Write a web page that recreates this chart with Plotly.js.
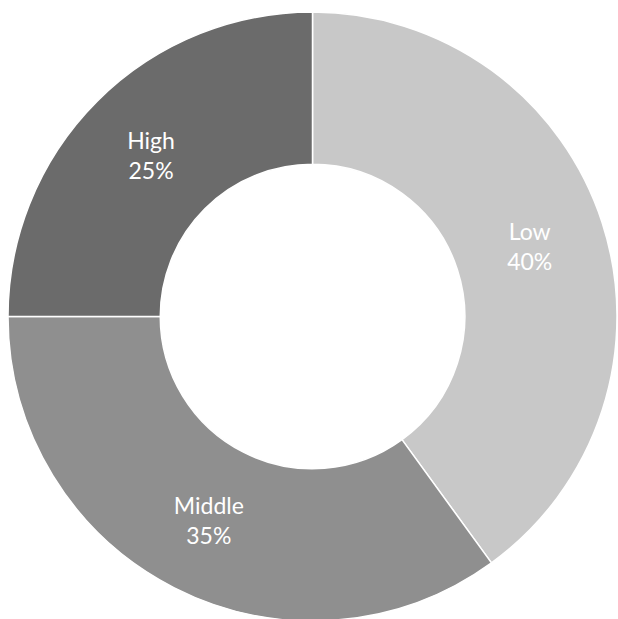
<!DOCTYPE html>
<html>
<head>
<meta charset="utf-8">
<script src="https://cdn.plot.ly/plotly-3.0.1.min.js"></script>
<style>
html,body{margin:0;padding:0;overflow:hidden;background:#fff;}
#chart{width:618px;height:630px;}
</style>
</head>
<body>
<div id="chart"></div>
<script>
const categories = ["Low", "Middle", "High"];
const shares = [40, 35, 25];
const sliceColors = ["#c8c8c8", "#8f8f8f", "#6b6b6b"];

const W = 618, H = 630;
const cx = 312.5, cyTop = 316.5, r = 304.5;

const trace = {
  type: "pie",
  labels: categories,
  values: shares,
  sort: false,
  direction: "clockwise",
  rotation: 0,
  hole: 0.5,
  marker: {colors: sliceColors, line: {color: "#ffffff", width: 1.5}},
  textinfo: "label+percent",
  textposition: "inside",
  insidetextorientation: "horizontal",
  textfont: {color: "#ffffff", size: 23, family: "Lato, 'DejaVu Sans', sans-serif"},
  hoverinfo: "none",
  domain: {
    x: [(cx - r) / W, (cx + r) / W],
    y: [(H - cyTop - r) / H, (H - cyTop + r) / H]
  }
};

Plotly.newPlot("chart", [trace], {
  width: W, height: H,
  margin: {l: 0, r: 0, t: 0, b: 0, pad: 0},
  showlegend: false,
  paper_bgcolor: "#ffffff",
  plot_bgcolor: "#ffffff"
}, {staticPlot: true, displayModeBar: false});
</script>
</body>
</html>
